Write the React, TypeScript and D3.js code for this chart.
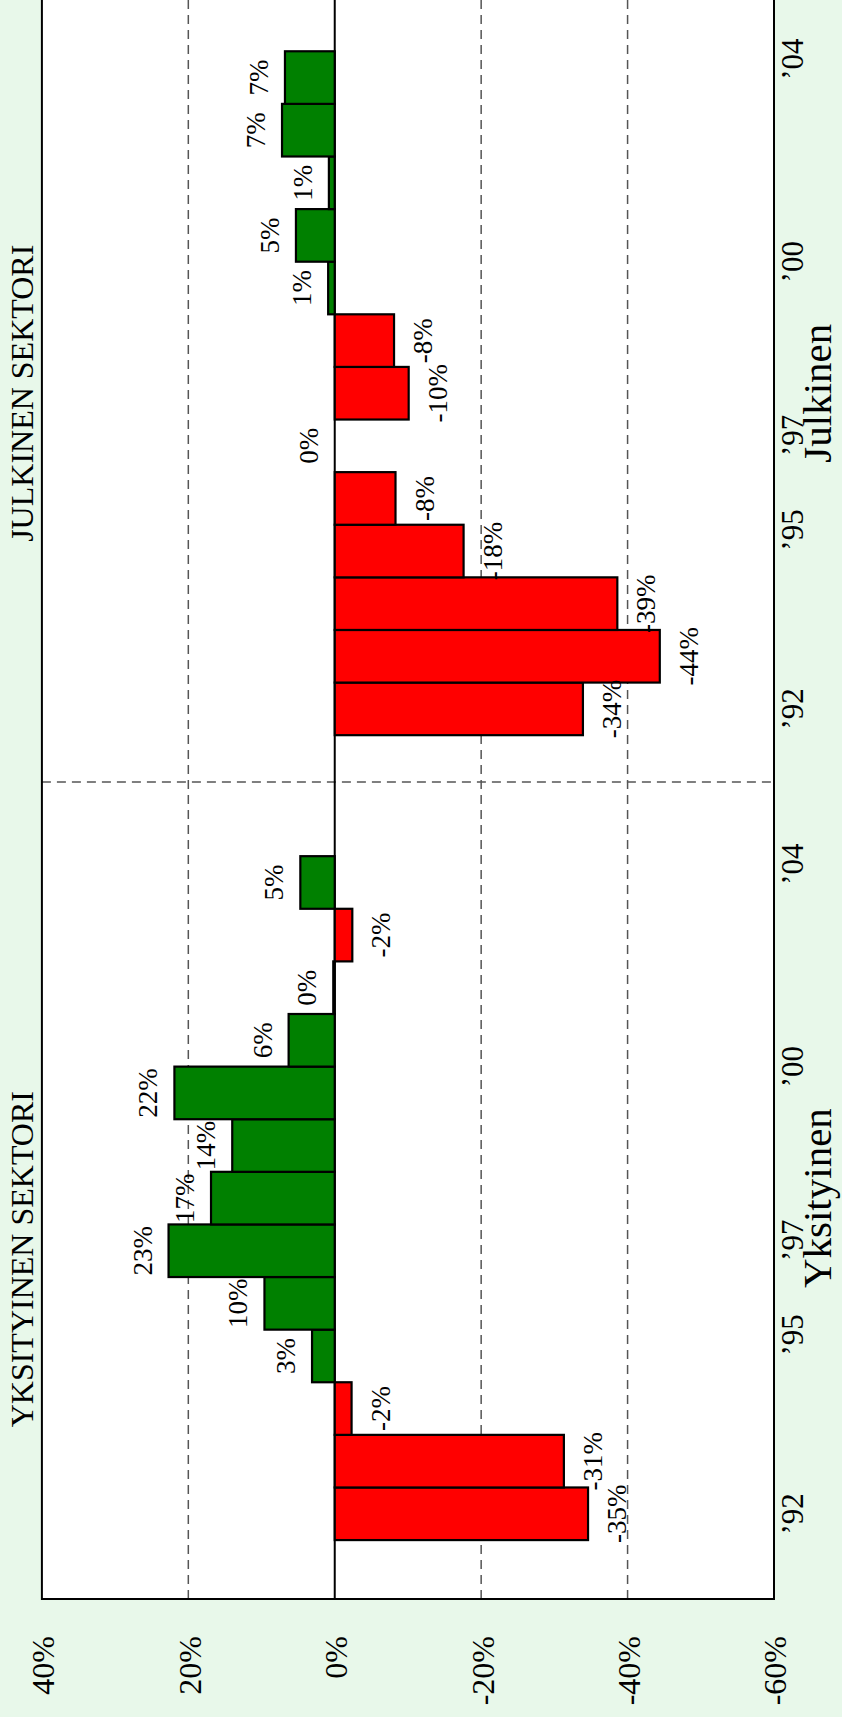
import React, { useEffect, useRef } from 'react';
import * as d3 from 'd3';

// yearly change, % (bars drawn '92 .. '04 in each sector)
const years = ['92', '93', '94', '95', '96', '97', '98', '99', '00', '01', '02', '03', '04'];
const yksityinen = [-34.6, -31.3, -2.3, 3.1, 9.6, 22.7, 16.9, 14.0, 21.9, 6.3, 0.2, -2.4, 4.7];
const julkinen = [-33.9, -44.4, -38.6, -17.6, -8.3, 0, -10.1, -8.1, 0.9, 5.3, 0.8, 7.2, 6.8];

const sectorNames = ['Yksityinen', 'Julkinen'];
const sectorTitles = ['YKSITYINEN SEKTORI', 'JULKINEN SEKTORI'];

const yearTickLabels = ['\u201992', '\u201995', '\u201997', '\u201900', '\u201904'];
const yearTickSlots = [0.5, 3.9, 5.7, 9.0, 12.85]; // position along the year slots
const valueTicks = [40, 20, 0, -20, -40, -60];
const gridValues = [20, -20, -40];

const App = () => {
    const d3Container = useRef(null);

    useEffect(() => {
        const pageW = 842, pageH = 1717;
        const svg = d3.select(d3Container.current);
        svg.selectAll('*').remove();

        svg.append('rect')
            .attr('width', pageW)
            .attr('height', pageH)
            .attr('fill', '#e8f8ea');

        // chart is drawn upright, then turned a quarter left
        const chart = svg.append('g')
            .attr('transform', `translate(0,${pageH}) rotate(-90)`)
            .style('font-family', '"Liberation Serif", "Times New Roman", serif');

        const frame = { left: 118, right: 1752, top: 41.9, bottom: 774 };
        const groupStart = [0, 15.3];
        const dividerSlot = 14.41;
        const titleSlots = [5.34, 21.8];

        const x = d3.scaleLinear().domain([-1.12, 29.94]).range([frame.left, frame.right]);
        const y = d3.scaleLinear().domain([40, -60]).range([frame.top, frame.bottom]);

        chart.append('rect')
            .attr('x', frame.left)
            .attr('y', frame.top)
            .attr('width', frame.right - frame.left)
            .attr('height', frame.bottom - frame.top)
            .attr('fill', '#ffffff');

        // dashed grid
        chart.selectAll('.grid')
            .data(gridValues)
            .enter().append('line')
            .attr('x1', frame.left)
            .attr('x2', frame.right)
            .attr('y1', d => y(d))
            .attr('y2', d => y(d))
            .attr('stroke', '#555')
            .attr('stroke-width', 1.5)
            .attr('stroke-dasharray', '9,6');

        chart.append('line')
            .attr('x1', x(dividerSlot))
            .attr('x2', x(dividerSlot))
            .attr('y1', frame.top)
            .attr('y2', frame.bottom)
            .attr('stroke', '#555')
            .attr('stroke-width', 1.5)
            .attr('stroke-dasharray', '9,6');

        chart.append('line')
            .attr('x1', frame.left)
            .attr('x2', frame.right)
            .attr('y1', y(0))
            .attr('y2', y(0))
            .attr('stroke', '#000')
            .attr('stroke-width', 2);

        const series = [yksityinen, julkinen];
        series.forEach((values, gi) => {
            const rows = values.map((v, i) => ({ year: years[i], v, slot: groupStart[gi] + i }));

            chart.selectAll(`.bar${gi}`)
                .data(rows)
                .enter().append('rect')
                .attr('x', d => x(d.slot))
                .attr('width', d => x(d.slot + 1) - x(d.slot))
                .attr('y', d => y(Math.max(d.v, 0)))
                .attr('height', d => Math.abs(y(d.v) - y(0)))
                .attr('fill', d => d.v >= 0 ? '#008000' : '#ff0000')
                .attr('stroke', '#000')
                .attr('stroke-width', 2.2);

            chart.selectAll(`.lbl${gi}`)
                .data(rows)
                .enter().append('text')
                .attr('x', d => x(d.slot + 0.5))
                .attr('y', d => d.v >= 0 ? y(d.v) - 17 : y(d.v) + 38)
                .attr('text-anchor', 'middle')
                .style('font-size', '27px')
                .text(d => `${Math.round(d.v)}%`);

            chart.selectAll(`.tick${gi}`)
                .data(yearTickLabels)
                .enter().append('text')
                .attr('x', (d, i) => x(groupStart[gi] + yearTickSlots[i]))
                .attr('y', 803)
                .attr('text-anchor', 'middle')
                .style('font-size', '31px')
                .text(d => d);

            chart.append('text')
                .attr('x', x(groupStart[gi] + 6.5))
                .attr('y', 831)
                .attr('text-anchor', 'middle')
                .style('font-size', '41px')
                .text(sectorNames[gi]);

            chart.append('text')
                .attr('x', x(titleSlots[gi]))
                .attr('y', 33)
                .attr('text-anchor', 'middle')
                .style('font-size', '32px')
                .text(sectorTitles[gi]);
        });

        // value axis
        const axis = chart.append('g')
            .attr('transform', `translate(${frame.left},0)`)
            .call(d3.axisLeft(y).tickValues(valueTicks).tickSize(0).tickPadding(37).tickFormat(d => `${d}%`));
        axis.select('.domain').remove();
        axis.selectAll('text')
            .attr('dy', '0.37em')
            .attr('fill', '#000')
            .style('font-family', '"Liberation Serif", "Times New Roman", serif')
            .style('font-size', '32px');

        chart.append('rect')
            .attr('x', frame.left)
            .attr('y', frame.top)
            .attr('width', frame.right - frame.left)
            .attr('height', frame.bottom - frame.top)
            .attr('fill', 'none')
            .attr('stroke', '#000')
            .attr('stroke-width', 2);
    }, []);

    return <svg ref={d3Container} width={842} height={1717} style={{ position: 'absolute', left: 0, top: 0 }} />;
};

export default App;
